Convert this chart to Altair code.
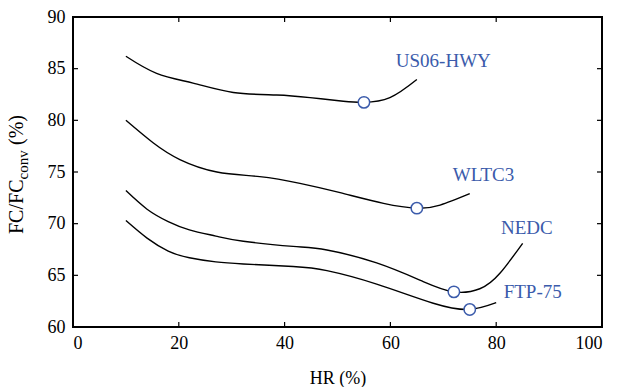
import altair as alt
import pandas as pd

# ---- data ----
us06_x = [10, 15.8, 22.7, 30.3, 38.5, 44.8, 51.1, 55, 59.9, 65]
us06_y = [86.2, 84.55, 83.6, 82.7, 82.45, 82.2, 81.85, 81.74, 82.2, 83.95]

wltc3_x = [10, 15.2, 20.2, 27.2, 35.3, 42.9, 50.5, 58.7, 65, 69.4, 75]
wltc3_y = [80.0, 77.8, 76.2, 75.0, 74.55, 73.9, 73.0, 71.97, 71.5, 71.8, 72.9]

nedc_x = [10, 14, 18, 22, 27, 32.2, 41.6, 48, 57.4, 66.2, 72, 76.9, 80.7, 85]
nedc_y = [73.2, 71.4, 70.2, 69.4, 68.8, 68.3, 67.8, 67.45, 66.2, 64.4, 63.4, 63.7, 65.2, 68.1]

ftp_x = [10, 14, 18, 22, 27, 32.2, 41.6, 48, 57.4, 68.1, 75, 80]
ftp_y = [70.3, 68.6, 67.35, 66.7, 66.3, 66.1, 65.85, 65.45, 64.15, 62.3, 61.7, 62.35]

marker_names = ["US06-HWY", "WLTC3", "NEDC", "FTP-75"]
marker_x = [55, 65, 72, 75]
marker_y = [81.74, 71.5, 63.4, 61.7]

label_x = [70, 77.6, 85.8, 86.9]
label_y = [85.7, 74.7, 69.55, 63.4]

x_ticks = [0, 20, 40, 60, 80, 100]
y_ticks = [60, 65, 70, 75, 80, 85, 90]

# ---- tables ----
rows = []
for name, xs_, ys_ in [("US06-HWY", us06_x, us06_y), ("WLTC3", wltc3_x, wltc3_y),
                       ("NEDC", nedc_x, nedc_y), ("FTP-75", ftp_x, ftp_y)]:
    for xv, yv in zip(xs_, ys_):
        rows.append({"series": name, "hr": xv, "fc": yv})
lines_df = pd.DataFrame(rows)
markers_df = pd.DataFrame({"series": marker_names, "hr": marker_x, "fc": marker_y})
labels_df = pd.DataFrame({"series": marker_names, "hr": label_x, "fc": label_y})
xt_df = pd.DataFrame({"hr": x_ticks})
yt_df = pd.DataFrame({"fc": y_ticks})

FONT = "Liberation Serif"
BLUE = "#3b5bab"
W, H = 529, 310

xs = alt.Scale(domain=[0, 100], nice=False)
ys = alt.Scale(domain=[60, 90], nice=False)

x_axis = alt.Axis(values=x_ticks, ticks=False, domain=False, grid=False,
                  labelFont=FONT, labelFontSize=18, labelColor="black",
                  labelPadding=7, title="HR (%)", titleFont=FONT,
                  titleFontSize=18, titleFontWeight="normal",
                  titleColor="black", titlePadding=17)
y_axis = alt.Axis(values=y_ticks, ticks=False, domain=False, grid=False,
                  labelFont=FONT, labelFontSize=18, labelColor="black",
                  labelPadding=8, title="")

X = alt.X("hr:Q", scale=xs, axis=x_axis, title="HR (%)")
Y = alt.Y("fc:Q", scale=ys, axis=y_axis, title="")

lines = alt.Chart(lines_df).mark_line(color="black", strokeWidth=1.4, interpolate="natural").encode(
    x=X, y=Y, detail="series:N")

markers = alt.Chart(markers_df).mark_circle(size=130, fill="white", stroke=BLUE, strokeWidth=1.5,
                                             opacity=1).encode(x=X, y=Y)

labels = alt.Chart(labels_df).mark_text(font=FONT, fontSize=19, color=BLUE, align="center",
                                        baseline="middle").encode(x=X, y=Y, text="series:N")

# inward tick marks on all four sides
tb = alt.Chart(xt_df).mark_rule(color="black", strokeWidth=1.2).encode(
    x=X, y=alt.value(H), y2=alt.value(H - 5))
tt = alt.Chart(xt_df).mark_rule(color="black", strokeWidth=1.2).encode(
    x=X, y=alt.value(0), y2=alt.value(5))
tl = alt.Chart(yt_df).mark_rule(color="black", strokeWidth=1.2).encode(
    y=Y, x=alt.value(0), x2=alt.value(5))
tr = alt.Chart(yt_df).mark_rule(color="black", strokeWidth=1.2).encode(
    y=Y, x=alt.value(W), x2=alt.value(W - 5))

# y-axis title with subscript
t1 = alt.Chart(pd.DataFrame({"t": ["FC/FC"]})).mark_text(
    font=FONT, fontSize=20, angle=270, align="left", baseline="alphabetic", color="black").encode(
    text="t:N", x=alt.value(-50), y=alt.value(217))
t2 = alt.Chart(pd.DataFrame({"t": ["conv"]})).mark_text(
    font=FONT, fontSize=15, angle=270, align="left", baseline="alphabetic", color="black").encode(
    text="t:N", x=alt.value(-45), y=alt.value(162.5))
t3 = alt.Chart(pd.DataFrame({"t": ["(%)"]})).mark_text(
    font=FONT, fontSize=20, angle=270, align="left", baseline="alphabetic", color="black").encode(
    text="t:N", x=alt.value(-50), y=alt.value(128))

chart = alt.layer(lines, tb, tt, tl, tr, markers, labels, t1, t2, t3).properties(
    width=W, height=H,
    autosize=alt.AutoSizeParams(type="none"),
    padding={"left": 73, "top": 17, "right": 17, "bottom": 60},
    background="white",
).configure_view(stroke="black", strokeWidth=2)

chart.save("out.html", embed_options={"renderer": "svg", "actions": False})
